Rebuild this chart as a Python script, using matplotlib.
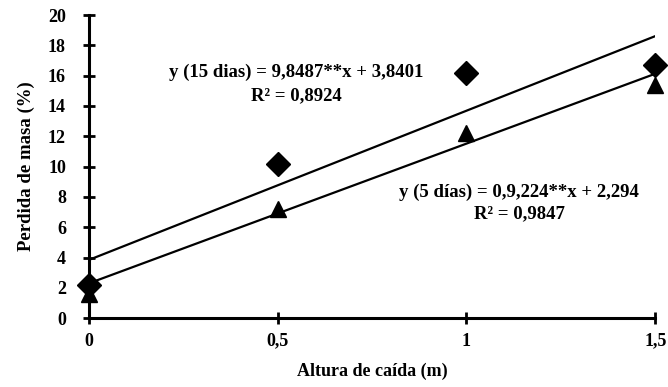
import matplotlib.pyplot as plt
import numpy as np

# data
altura = [0, 0.5, 1, 1.5]
perda_15 = [2.2, 10.2, 16.2, 16.7]
perda_5 = [1.6, 7.2, 12.2, 15.4]
coef_15 = (9.8487, 3.8401)
coef_5 = (9.224, 2.294)
xticks = [0, 0.5, 1, 1.5]
xtick_labels = ['0', '0,5', '1', '1,5']
yticks = list(range(0, 21, 2))

plt.rcParams['font.family'] = ['Liberation Serif', 'DejaVu Serif']
plt.rcParams['font.weight'] = 'bold'

fig = plt.figure(figsize=(6.68, 3.87), dpi=100)
ax = fig.add_axes([0.133, 0.178, 0.848, 0.783])

xs = np.array([0, 1.5])
ax.plot(xs, coef_15[0] * xs + coef_15[1], color='black', lw=1.6)
ax.plot(xs, coef_5[0] * xs + coef_5[1], color='black', lw=1.6)
ax.plot(altura, perda_15, 'D', color='black', ms=12, clip_on=False, zorder=5)
ax.plot(altura, perda_5, '^', color='black', ms=11, clip_on=False, zorder=5)

ax.set_xlim(0, 1.5)
ax.set_ylim(0, 20)
ax.set_xticks(xticks)
ax.set_xticklabels(xtick_labels)
ax.set_yticks(yticks)
for s in ['top', 'right']:
    ax.spines[s].set_visible(False)
for s in ['left', 'bottom']:
    ax.spines[s].set_linewidth(2.2)
ax.tick_params(direction='inout', length=9, width=2, labelsize=13)
ax.tick_params(axis='y', pad=12)
ax.tick_params(axis='x', pad=6)
for lab in ax.get_xticklabels() + ax.get_yticklabels():
    lab.set_fontweight('bold')

ax.set_xlabel('Altura de caída (m)', fontsize=13, fontweight='bold', labelpad=9)
ax.set_ylabel('Perdida de masa (%)', fontsize=13.5, fontweight='bold', labelpad=9)

ax.text(0.55, 16.25, 'y (15 dias) = 9,8487**x + 3,8401', ha='center', va='center',
        fontsize=13.5, fontweight='bold')
ax.text(0.55, 14.65, 'R² = 0,8924', ha='center', va='center',
        fontsize=13.5, fontweight='bold')
ax.text(1.14, 8.3, 'y (5 días) = 0,9,224**x + 2,294', ha='center', va='center',
        fontsize=13.5, fontweight='bold')
ax.text(1.14, 6.9, 'R² = 0,9847', ha='center', va='center',
        fontsize=13.5, fontweight='bold')

fig.savefig('out.png', dpi=100)
